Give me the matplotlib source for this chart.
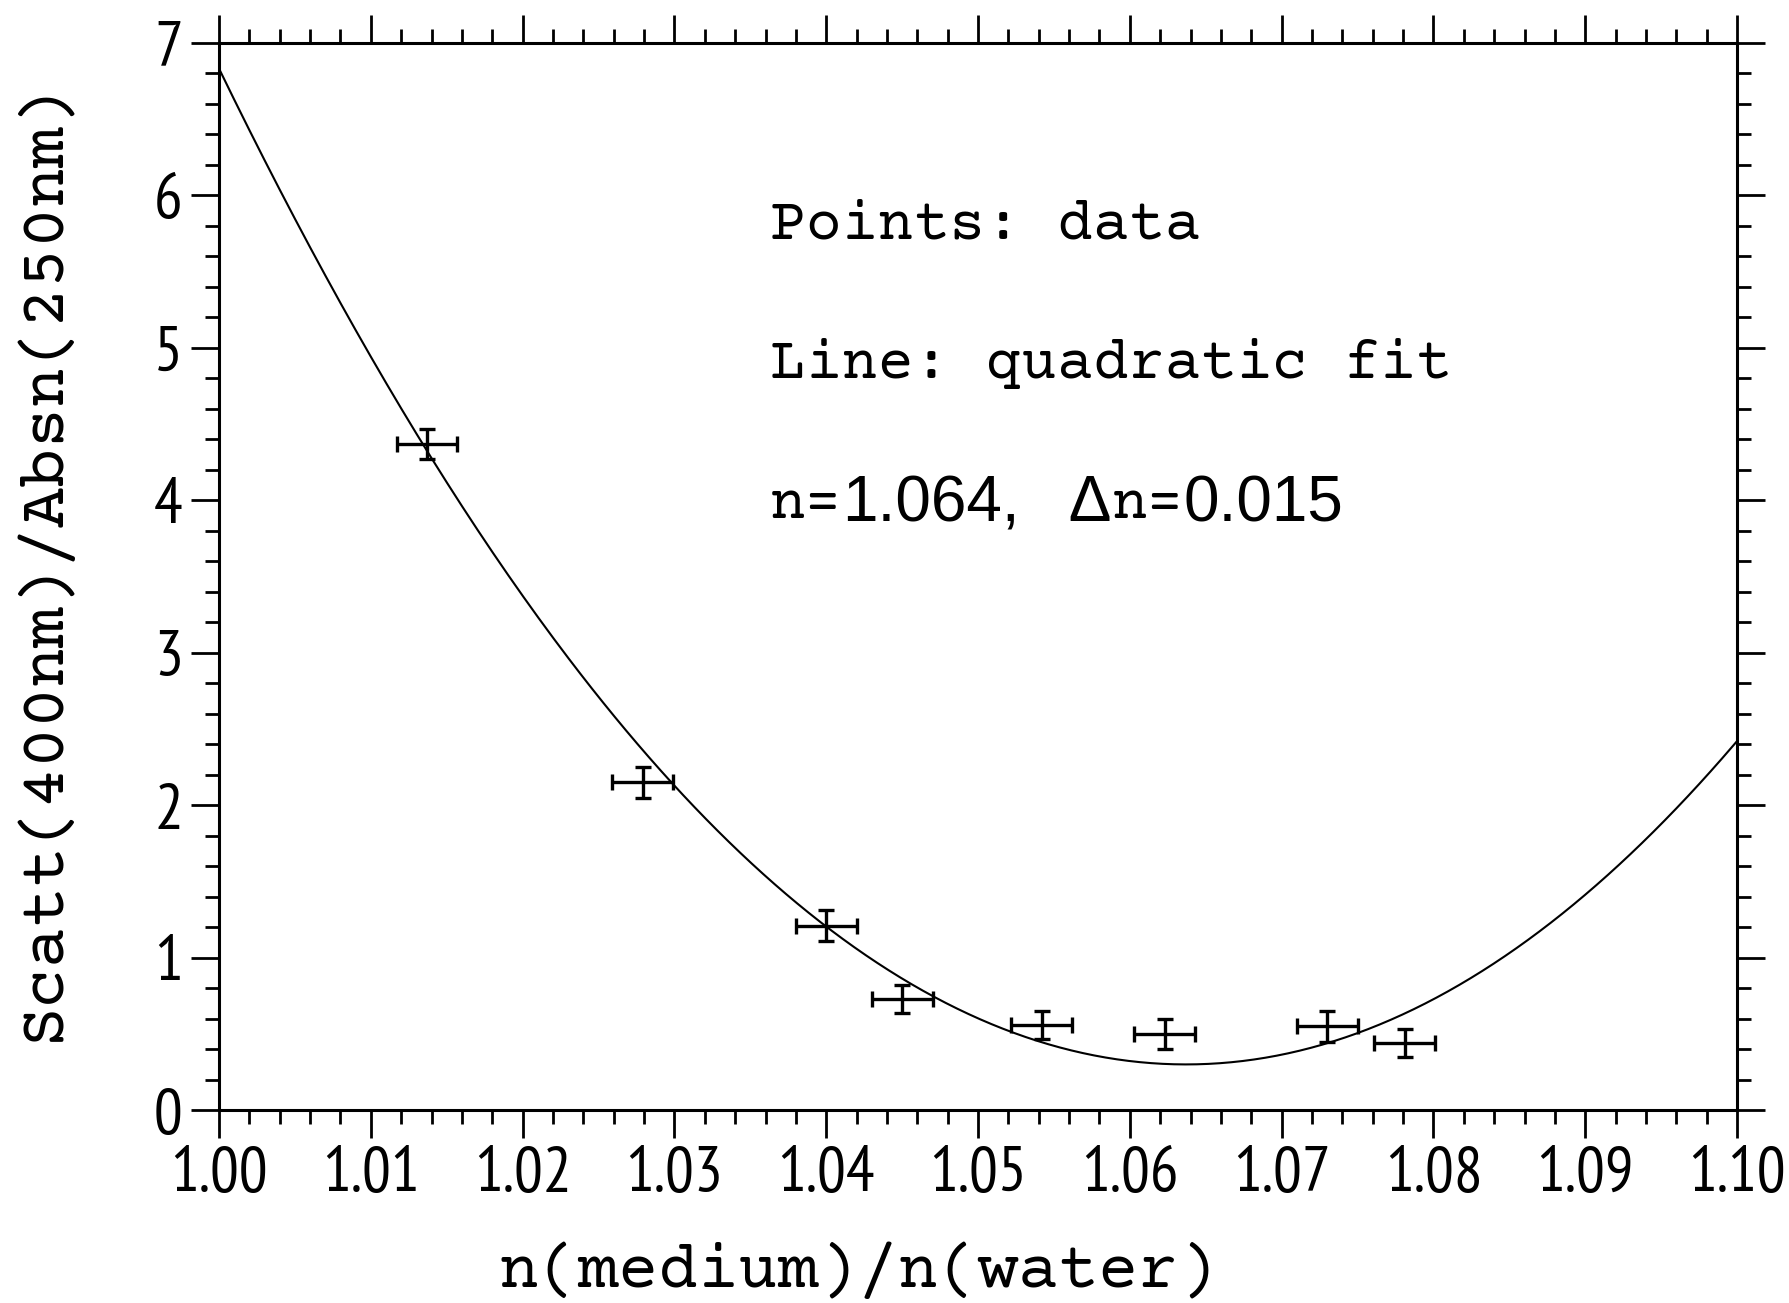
import numpy as np
import matplotlib
matplotlib.use('Agg')
import matplotlib.pyplot as plt
from matplotlib.ticker import MultipleLocator

# measured points: n(medium)/n(water) vs scatter/absorbance ratio
n_ratio = [1.0137, 1.0279, 1.0400, 1.0450, 1.0542, 1.0623, 1.0730, 1.0781]
scatt_ratio = [4.37, 2.15, 1.21, 0.73, 0.56, 0.50, 0.55, 0.44]
n_err = [0.002, 0.002, 0.002, 0.002, 0.002, 0.002, 0.002, 0.002]
scatt_err = [0.10, 0.10, 0.10, 0.09, 0.09, 0.10, 0.10, 0.09]

# quadratic fit: a*(n - n0)^2 + c
fit_n0 = 1.0637
fit_a = 1610.0
fit_c = 0.30

x_ticks = [1.00, 1.01, 1.02, 1.03, 1.04, 1.05, 1.06, 1.07, 1.08, 1.09, 1.10]
y_ticks = [0, 1, 2, 3, 4, 5, 6, 7]

mono = ['Courier Prime', 'Cutive Mono', 'Liberation Mono', 'DejaVu Serif']
narrow = ['PT Sans Narrow', 'Liberation Sans', 'DejaVu Sans']
helv = ['Liberation Sans', 'DejaVu Sans']

fig = plt.figure(figsize=(17.89, 13.03), dpi=100)
ax = fig.add_axes([0.1224, 0.148, 0.8486, 0.819])

nn = np.linspace(1.0, 1.1, 400)
ax.plot(nn, fit_a * (nn - fit_n0) ** 2 + fit_c, color='black', linewidth=1.5)

ax.errorbar(n_ratio, scatt_ratio, xerr=n_err, yerr=scatt_err, fmt='none',
            ecolor='black', elinewidth=2.4, capsize=6, capthick=2.4)

ax.set_xlim(1.0, 1.1)
ax.set_ylim(0, 7)
ax.set_xticks(x_ticks)
ax.set_xticklabels(['%.2f' % t for t in x_ticks], family=narrow, fontsize=46)
ax.set_yticks(y_ticks)
ax.set_yticklabels([str(t) for t in y_ticks], family=narrow, fontsize=46)
ax.xaxis.set_minor_locator(MultipleLocator(0.002))
ax.yaxis.set_minor_locator(MultipleLocator(0.2))
ax.tick_params(which='both', direction='out', top=True, right=True, width=2, color='black')
ax.tick_params(which='major', length=20, pad=6)
ax.tick_params(which='minor', length=10)
for s in ax.spines.values():
    s.set_linewidth(2.2)

ax.set_xlabel('n(medium)/n(water)', family=mono, fontsize=48, va='bottom')
ax.xaxis.set_label_coords(0.421, -0.178)
ax.set_ylabel('Scatt(400nm)/Absn(250nm)', family=mono, fontsize=48)
ax.yaxis.set_label_coords(-0.097, 0.515)

ax.text(0.363, 0.83, 'Points: data', transform=ax.transAxes, family=mono,
        fontsize=43, va='center', ha='left')
ax.text(0.363, 0.70, 'Line: quadratic fit', transform=ax.transAxes, family=mono,
        fontsize=43, va='center', ha='left')

# mixed fonts: letters in mono serif, numbers and delta in sans
t1 = ax.text(0.363, 0.568, 'n=', transform=ax.transAxes, family=mono,
             fontsize=43, va='center', ha='left')
t2 = ax.annotate('1.064,', xycoords=t1, xy=(1, 0.5), va='center', ha='left',
                 family=helv, fontsize=46)
t3 = ax.annotate('   Δ', xycoords=t2, xy=(1, 0.5), va='center', ha='left',
                 family=helv, fontsize=46)
t4 = ax.annotate('n=', xycoords=t3, xy=(1, 0.5), va='center', ha='left',
                 family=mono, fontsize=43)
ax.annotate('0.015', xycoords=t4, xy=(1, 0.5), va='center', ha='left',
            family=helv, fontsize=46)

fig.savefig('out.png', dpi=100, facecolor='white')
